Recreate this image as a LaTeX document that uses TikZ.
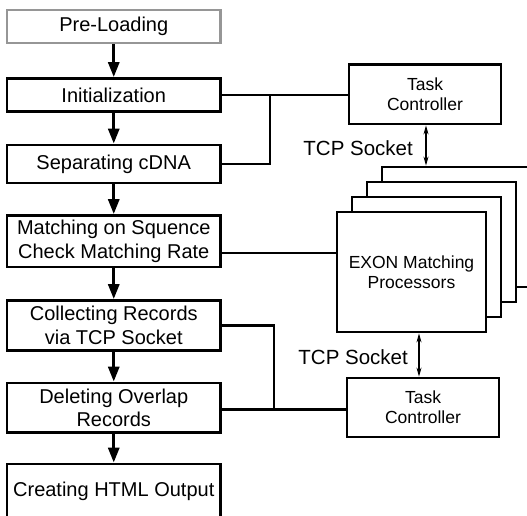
\documentclass[tikz,border=0pt]{standalone}
\usepackage{fontspec}
\setmainfont{Liberation Sans}
\usetikzlibrary{arrows.meta}
\definecolor{framegray}{RGB}{150,150,150}

\begin{document}
\begin{tikzpicture}[x=1pt,y=-1pt,
  stepbox/.style={draw, line width=2.8pt, minimum width=213.5pt, inner sep=0pt,
    align=center, font=\fontsize{20}{23.5}\selectfont},
  ctrlbox/.style={draw, line width=2.8pt, minimum width=152pt, minimum height=59pt,
    inner sep=0pt, align=center, font=\fontsize{17.5}{20}\selectfont},
  procbox/.style={draw, line width=2.8pt, fill=white, minimum width=149pt,
    minimum height=120pt, inner sep=0pt, align=center, font=\fontsize{17.5}{20}\selectfont},
  flow/.style={line width=3pt, -{Triangle[length=15pt,width=11pt]}},
  link/.style={line width=2.2pt},
  sock/.style={line width=1.2pt, {Stealth[length=9pt,width=5pt]}-{Stealth[length=9pt,width=5pt]}},
  socklabel/.style={font=\fontsize{20.5}{24}\selectfont, inner sep=0pt, anchor=base east}
]
\useasboundingbox (0,0) rectangle (527,515);

% processing steps
\node[stepbox, draw=framegray, minimum height=33pt] (pre) at (113.75,26.5) {Pre-Loading};
\node[stepbox, minimum height=33pt] (init) at (113.75,95) {Initialization};
\node[stepbox, minimum height=38pt] (sep) at (113.75,164) {Separating cDNA};
\node[stepbox, minimum height=51.5pt] (match) at (113.75,241.25) {Matching on Squence\\Check Matching Rate};
\node[stepbox, minimum height=50pt] (coll) at (113.75,325.5) {Collecting Records\\via TCP Socket};
\node[stepbox, minimum height=49.5pt] (del) at (113.75,407.75) {Deleting Overlap\\Records};
\node[stepbox, minimum height=54pt] (html) at (113.75,491) {Creating HTML Output};

\draw[flow] (pre.south) -- (init.north);
\draw[flow] (init.south) -- (sep.north);
\draw[flow] (sep.south) -- (match.north);
\draw[flow] (match.south) -- (coll.north);
\draw[flow] (coll.south) -- (del.north);
\draw[flow] (del.south) -- (html.north);

% controllers
\node[ctrlbox, minimum height=59.5pt] (tc1) at (425,94.25) {Task\\Controller};
\node[ctrlbox] (tc2) at (423,407.5) {Task\\Controller};

% stack of matching processors
\node[procbox] (p4) at (456.5,227) {};
\node[procbox] (p3) at (441.5,242) {};
\node[procbox] (p2) at (426.5,257) {};
\node[procbox] (front) at (411.5,272) {EXON Matching\\Processors};

% connections
\coordinate (j1) at (270,95);
\coordinate (mrow) at (0,253);
\coordinate (j2) at (274,409.5);
\coordinate (s1) at (426,0);
\coordinate (s2) at (419,0);

\draw[link] (init.east) -- (tc1.west |- init.east);
\draw[link] (sep.east) -| (j1);
\draw[link] (match.east |- mrow) -- (front.west |- mrow);
\draw[link] (coll.east) -| (j2);
\draw[link] (del.east |- j2) -- (tc2.west |- j2);

\draw[sock] (tc1.south -| s1) -- (p4.north -| s1);
\draw[sock] (front.south -| s2) -- (tc2.north -| s2);

\node[socklabel] (t1) at (413,155) {TCP Socket};
\node[socklabel] (t2) at (408,364.5) {TCP Socket};
\end{tikzpicture}
\end{document}
